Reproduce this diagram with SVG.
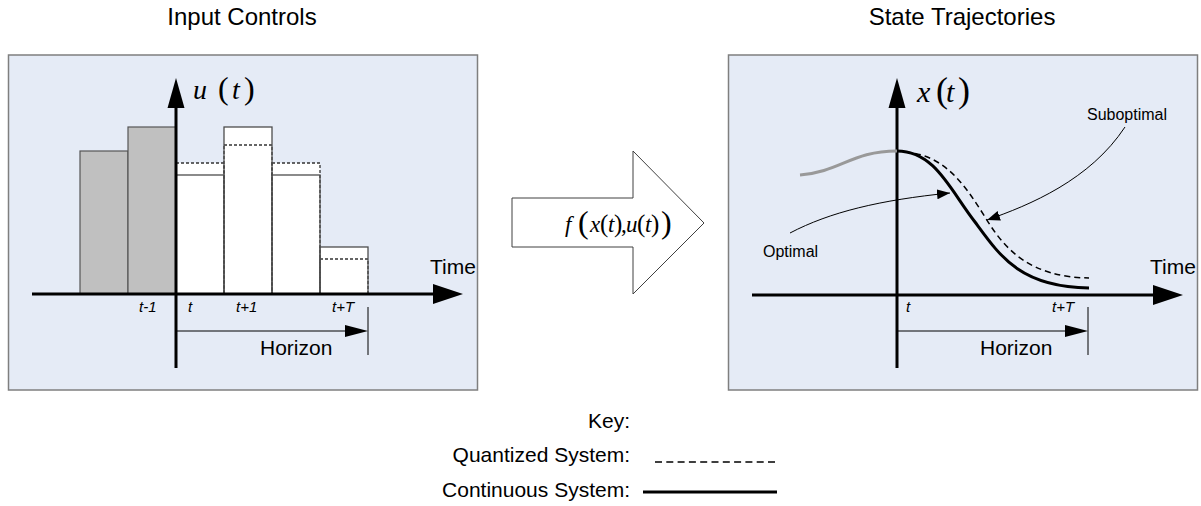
<svg xmlns="http://www.w3.org/2000/svg" width="1201" height="506" viewBox="0 0 1201 506">
<style>
.sans{font-family:"Liberation Sans",Arial,sans-serif;fill:#000}
.title{font-size:24px;text-anchor:middle}
.big{font-size:21px}
.tick{font-size:15px;font-style:italic}
.lbl{font-size:16px}
.math{font-family:"Liberation Serif","Times New Roman",serif;fill:#000}
.mi{font-style:italic}
.panel{fill:#E5EBF6;stroke:#7F7F7F;stroke-width:1.5}
.axis{stroke:#000;stroke-width:3;fill:none}
.thin{stroke:#000;stroke-width:1;fill:none}
.gbar{fill:#C0C0C0;stroke:#555;stroke-width:1.2}
.wbar{fill:none;stroke:#4d4d4d;stroke-width:1.3}
.qbar{fill:none;stroke:#333;stroke-width:1.3;stroke-dasharray:3 2}
.cont{stroke:#000;stroke-width:3;fill:none}
.quant{stroke:#000;stroke-width:1.5;fill:none;stroke-dasharray:6 4}
</style>
<defs>
<marker id="ah" markerUnits="userSpaceOnUse" markerWidth="14" markerHeight="10" refX="13" refY="5" orient="auto">
<path d="M0,0 L13,5 L0,10 Z" fill="#000"/>
</marker>
</defs>

<text class="sans title" x="242" y="25">Input Controls</text>
<text class="sans title" x="962" y="25">State Trajectories</text>

<g id="input-controls">
<rect class="panel" x="8.5" y="55" width="469" height="335"/>
<rect class="gbar" x="80" y="151" width="48" height="143"/>
<rect class="gbar" x="128" y="127" width="48" height="167"/>
<rect x="176" y="163" width="48" height="131" fill="#fff"/>
<rect x="224" y="127" width="48" height="167" fill="#fff"/>
<rect x="272" y="163" width="48" height="131" fill="#fff"/>
<rect x="320" y="247" width="48" height="47" fill="#fff"/>
<rect class="qbar" x="176" y="163" width="48" height="131"/>
<rect class="qbar" x="224" y="145" width="48" height="149"/>
<rect class="qbar" x="272" y="163" width="48" height="131"/>
<rect class="qbar" x="320" y="259" width="48" height="35"/>
<rect class="wbar" x="176" y="175" width="48" height="119"/>
<rect class="wbar" x="224" y="127" width="48" height="167"/>
<rect class="wbar" x="272" y="175" width="48" height="119"/>
<rect class="wbar" x="320" y="247" width="48" height="47"/>
<line class="axis" x1="32" y1="294" x2="435" y2="294"/>
<path d="M433,284 L463,294 L433,304 Z" fill="#000"/>
<line class="axis" x1="176" y1="368" x2="176" y2="105"/>
<path d="M167.5,108 L176,78 L184.5,108 Z" fill="#000"/>
<text class="math" y="99" font-size="28"><tspan class="mi" x="193">u</tspan><tspan x="218" font-size="32">(</tspan><tspan class="mi" x="232">t</tspan><tspan x="244" font-size="32">)</tspan></text>
<text class="sans tick" x="139" y="312">t-1</text>
<text class="sans tick" x="188" y="312">t</text>
<text class="sans tick" x="236" y="312">t+1</text>
<text class="sans tick" x="332" y="312">t+T</text>
<text class="sans big" x="430" y="274">Time</text>
<line class="thin" x1="176" y1="331" x2="350" y2="331"/>
<path d="M345,325 L368,331 L345,337 Z" fill="#000"/>
<line class="thin" x1="368" y1="307" x2="368" y2="355"/>
<text class="sans big" x="260" y="355">Horizon</text>
</g>

<g id="dynamics-arrow">
<path d="M512,198 L633,198 L633,151 L704,223 L633,294 L633,247 L512,247 Z" fill="#fff" stroke="#404040" stroke-width="1"/>
<text class="math" y="232" font-size="23"><tspan class="mi" x="565">f</tspan><tspan x="578" y="233" font-size="32">(</tspan><tspan class="mi" x="590" y="232">x</tspan><tspan x="600" font-size="25">(</tspan><tspan class="mi" x="608" font-size="23">t</tspan><tspan x="614" font-size="25">)</tspan><tspan x="621" font-size="23">,</tspan><tspan class="mi" x="626">u</tspan><tspan x="637" font-size="25">(</tspan><tspan class="mi" x="645" font-size="23">t</tspan><tspan x="651" font-size="25">)</tspan><tspan x="661" y="233" font-size="32">)</tspan></text>
</g>

<g id="state-trajectories">
<rect class="panel" x="728.5" y="55" width="469" height="335"/>
<line class="axis" x1="752" y1="295" x2="1155" y2="295"/>
<path d="M1153,285 L1183,295 L1153,305 Z" fill="#000"/>
<line class="axis" x1="897" y1="368" x2="897" y2="105"/>
<path d="M888.5,108 L897,78 L905.5,108 Z" fill="#000"/>
<text class="math" y="102" font-size="30"><tspan class="mi" x="917">x</tspan><tspan x="936" font-size="36">(</tspan><tspan class="mi" x="946">t</tspan><tspan x="958" font-size="36">)</tspan></text>
<path d="M800,175 C840,172 852,151 897,151" stroke="#999" stroke-width="3" fill="none"/>
<path class="quant" d="M905,152 C945,155 965,185 985,217 C1005,250 1030,277 1089,278"/>
<path class="cont" d="M897,151 C935,151 950,190 975,222 C1000,256 1020,287 1089,288"/>
<text class="sans tick" x="906" y="312">t</text>
<text class="sans tick" x="1052" y="312">t+T</text>
<text class="sans big" x="1150" y="274">Time</text>
<line class="thin" x1="897" y1="331" x2="1070" y2="331"/>
<path d="M1065,325 L1088,331 L1065,337 Z" fill="#000"/>
<line class="thin" x1="1088" y1="307" x2="1088" y2="355"/>
<text class="sans big" x="980" y="355">Horizon</text>
<text class="sans lbl" x="1087" y="120">Suboptimal</text>
<text class="sans lbl" x="763" y="257">Optimal</text>
</g>

<g id="connectors">
<path class="thin" d="M790,233 C830,212 880,200 950,193" marker-end="url(#ah)"/>
<path class="thin" d="M1125,127 C1090,180 1030,205 987,220" marker-end="url(#ah)"/>
</g>

<g id="key">
<text class="sans big" x="630" y="428" text-anchor="end">Key:</text>
<text class="sans big" x="630" y="462" text-anchor="end">Quantized System:</text>
<text class="sans big" x="630" y="497" text-anchor="end">Continuous System:</text>
<line x1="655" y1="462" x2="777" y2="462" stroke="#000" stroke-width="1.5" stroke-dasharray="7 4.3"/>
<line x1="643" y1="492" x2="777" y2="492" stroke="#000" stroke-width="3"/>
</g>
</svg>
